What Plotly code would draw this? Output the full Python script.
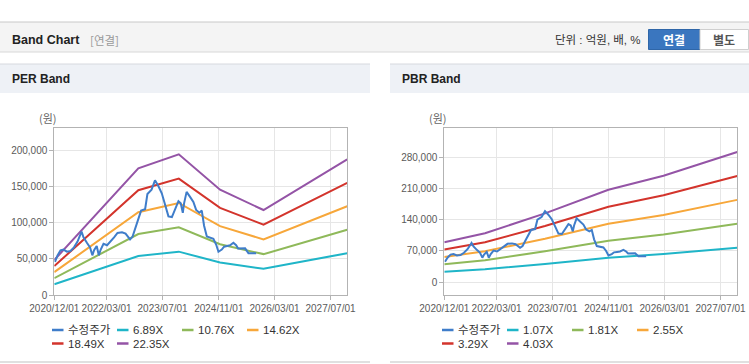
import plotly.graph_objects as go

W, H = 749, 364

# ---------------- data ----------------
price_name = "수정주가"
price_dates = [
    "2020-12-07", "2020-12-29", "2021-01-24", "2021-02-19", "2021-03-21", "2021-04-21",
    "2021-05-21", "2021-06-21", "2021-07-26", "2021-08-12", "2021-09-12", "2021-10-08",
    "2021-10-28", "2021-11-12", "2021-12-05", "2021-12-23", "2022-01-09", "2022-02-02",
    "2022-03-05", "2022-04-04", "2022-05-05", "2022-06-04", "2022-07-13", "2022-08-13",
    "2022-09-21", "2022-10-13", "2022-11-08", "2022-12-04", "2022-12-26", "2023-01-30",
    "2023-02-19", "2023-03-27", "2023-04-26", "2023-05-25", "2023-06-24", "2023-07-23",
    "2023-08-21", "2023-09-20", "2023-10-18", "2023-11-16", "2023-12-06", "2023-12-24",
    "2024-01-04", "2024-01-26", "2024-02-25", "2024-03-25", "2024-04-18", "2024-05-16",
    "2024-06-06", "2024-06-26", "2024-07-20", "2024-08-18", "2024-09-15", "2024-10-09",
    "2024-10-29", "2024-11-27", "2024-12-17", "2025-01-12", "2025-02-07", "2025-03-08",
    "2025-04-01", "2025-04-18", "2025-05-23", "2025-06-18", "2025-07-17", "2025-08-18",
    "2025-09-22",
]
price_values = [
    46000, 55000, 62000, 63000, 60000, 61000,
    66000, 74000, 88000, 80000, 72000, 66000,
    55000, 62000, 68000, 55000, 63000, 71000,
    69000, 74000, 80000, 86000, 87000, 85000,
    77000, 81000, 94000, 108000, 117000, 119000,
    140000, 146000, 159000, 151000, 141000, 125000,
    109000, 108000, 120000, 130000, 127000, 114000,
    127000, 143000, 136000, 129000, 118000, 114000,
    117000, 96000, 81000, 79000, 78000, 70000,
    60000, 63000, 67000, 68000, 69000, 72500,
    69000, 64500, 64700, 64700, 58000, 58000,
    58000,
]

per_band_names = ["6.89X", "10.76X", "14.62X", "18.49X", "22.35X"]
per_band_dates = ["2020-12-01", "2022-12-02", "2023-11-19", "2024-11-12", "2025-11-25", "2027-11-23"]
per_6_89 = [15000, 54100, 60100, 45000, 36300, 58000]
per_10_76 = [23300, 84500, 93900, 70300, 56700, 90500]
per_14_62 = [31700, 114800, 127600, 95500, 77100, 123000]
per_18_49 = [40100, 145200, 161300, 120800, 97500, 155500]
per_22_35 = [48500, 175500, 195000, 146000, 117800, 188000]

pbr_band_names = ["1.07X", "1.81X", "2.55X", "3.29X", "4.03X"]
pbr_band_dates = ["2020-12-01", "2021-11-20", "2023-04-26", "2024-10-29", "2026-02-20", "2027-11-23"]
pbr_1_07 = [23800, 29200, 40900, 54900, 63200, 77300]
pbr_1_81 = [40200, 49300, 69200, 92900, 107000, 130800]
pbr_2_55 = [56700, 69500, 97500, 130900, 150700, 184300]
pbr_3_29 = [73100, 89600, 125700, 168800, 194500, 237700]
pbr_4_03 = [89600, 109800, 154000, 206800, 238200, 291200]

x_tick_vals = ["2020-12-01", "2022-03-01", "2023-07-01", "2024-11-01", "2026-03-01", "2027-07-01"]
x_tick_text = ["2020/12/01", "2022/03/01", "2023/07/01", "2024/11/01", "2026/03/01", "2027/07/01"]
per_y_ticks = [0, 50000, 100000, 150000, 200000]
pbr_y_ticks = [0, 70000, 140000, 210000, 280000]

# ---------------- style ----------------
PRICE_COLOR = "#3f7dca"
BAND_COLORS = ["#1fb5c8", "#8fb95a", "#f7a73a", "#d3342c", "#9454a6"]
TICK_FONT = dict(family="Liberation Sans, Arial, sans-serif", size=10, color="#5a5a5a")
LEG_FONT = dict(family="Liberation Sans, Arial, Noto Sans CJK KR, sans-serif",
                size=11.5, color="#333333")


def px(x):
    return x / W


def py(y):
    return 1 - y / H


fig = go.Figure()

per_bands = [per_6_89, per_10_76, per_14_62, per_18_49, per_22_35]
pbr_bands = [pbr_1_07, pbr_1_81, pbr_2_55, pbr_3_29, pbr_4_03]

for vals, name, col in zip(per_bands, per_band_names, BAND_COLORS):
    fig.add_trace(go.Scatter(x=per_band_dates, y=vals, name=name, mode="lines",
                             line=dict(color=col, width=2), xaxis="x", yaxis="y",
                             showlegend=False, hoverinfo="skip"))
fig.add_trace(go.Scatter(x=price_dates, y=price_values, name=price_name, mode="lines",
                         line=dict(color=PRICE_COLOR, width=2), xaxis="x", yaxis="y",
                         showlegend=False))

for vals, name, col in zip(pbr_bands, pbr_band_names, BAND_COLORS):
    fig.add_trace(go.Scatter(x=pbr_band_dates, y=vals, name=name, mode="lines",
                             line=dict(color=col, width=2), xaxis="x2", yaxis="y2",
                             showlegend=False, hoverinfo="skip"))
fig.add_trace(go.Scatter(x=price_dates, y=price_values, name=price_name, mode="lines",
                         line=dict(color=PRICE_COLOR, width=2), xaxis="x2", yaxis="y2",
                         showlegend=False))

x_range = ["2020-12-01", "2027-11-24"]
common_x = dict(type="date", range=x_range, tickmode="array", tickvals=x_tick_vals,
                ticktext=x_tick_text, tickfont=TICK_FONT, tickangle=0, showgrid=True,
                gridcolor="#e6e6e6", gridwidth=1, showline=True, linecolor="#b3b3b3",
                linewidth=1, mirror=True, ticks="outside", ticklen=4, tickcolor="#b3b3b3",
                zeroline=False, fixedrange=True, automargin=False)
common_y = dict(tickmode="array", tickfont=TICK_FONT, tickformat=",d", showgrid=True,
                gridcolor="#e6e6e6", gridwidth=1, showline=True, linecolor="#b3b3b3",
                linewidth=1, mirror=True, ticks="outside", ticklen=4, tickcolor="#b3b3b3",
                zeroline=False, fixedrange=True, automargin=False)

fig.update_layout(
    width=W, height=H,
    margin=dict(l=0, r=0, t=0, b=0, pad=0, autoexpand=False),
    paper_bgcolor="white",
    plot_bgcolor="rgba(0,0,0,0)",
    showlegend=False,
    xaxis=dict(domain=[px(54.3), px(347.3)], anchor="y", **common_x),
    yaxis=dict(domain=[py(295), py(128)], anchor="x", range=[0, 231500],
               tickvals=per_y_ticks, **common_y),
    xaxis2=dict(domain=[px(444.3), px(737.3)], anchor="y2", **common_x),
    yaxis2=dict(domain=[py(295), py(128)], anchor="x2", range=[-28400, 345000],
                tickvals=pbr_y_ticks, **common_y),
)

shapes = []
annotations = []

# top header bar
shapes.append(dict(type="rect", xref="paper", yref="paper", x0=px(0), x1=px(749),
                   y0=py(52), y1=py(22), fillcolor="#f4f4f4",
                   line=dict(width=0), layer="below"))
shapes.append(dict(type="line", xref="paper", yref="paper", x0=0, x1=1, y0=py(22), y1=py(22),
                   line=dict(color="#c8c8c8", width=1), layer="below"))
shapes.append(dict(type="line", xref="paper", yref="paper", x0=0, x1=1, y0=py(52), y1=py(52),
                   line=dict(color="#d8d8d8", width=1), layer="below"))
# buttons
shapes.append(dict(type="rect", xref="paper", yref="paper", x0=px(648.5), x1=px(700),
                   y0=py(49.5), y1=py(29.5), fillcolor="#3a76bf",
                   line=dict(color="#2f66a8", width=1), layer="below"))
shapes.append(dict(type="rect", xref="paper", yref="paper", x0=px(700), x1=px(748.5),
                   y0=py(49.5), y1=py(29.5), fillcolor="#ffffff",
                   line=dict(color="#cfcfcf", width=1), layer="below"))

annotations += [
    dict(text="<b>Band Chart</b>", x=px(10), y=py(39.5), xref="paper", yref="paper",
         xanchor="left", yanchor="middle", showarrow=False,
         font=dict(family="Liberation Sans, Arial, sans-serif", size=12.5, color="#222222")),
    dict(text="[연결]", x=px(88), y=py(39.5), xref="paper", yref="paper",
         xanchor="left", yanchor="middle", showarrow=False,
         font=dict(family="Noto Sans CJK KR, sans-serif", size=11.5, color="#999999")),
    dict(text="단위 : 억원, 배, %", x=px(643), y=py(39.5), xref="paper", yref="paper",
         xanchor="right", yanchor="middle", showarrow=False,
         font=dict(family="Liberation Sans, Noto Sans CJK KR, sans-serif", size=11.5, color="#333333")),
    dict(text="<b>연결</b>", x=px(674), y=py(39.5), xref="paper", yref="paper",
         xanchor="center", yanchor="middle", showarrow=False,
         font=dict(family="Noto Sans CJK KR, sans-serif", size=12, color="#ffffff")),
    dict(text="<b>별도</b>", x=px(724), y=py(39.5), xref="paper", yref="paper",
         xanchor="center", yanchor="middle", showarrow=False,
         font=dict(family="Noto Sans CJK KR, sans-serif", size=12, color="#555555")),
]

# panels
for (x0, x1, title, ox) in [(0, 370, "PER Band", 48), (390, 749, "PBR Band", 438)]:
    shapes.append(dict(type="rect", xref="paper", yref="paper", x0=px(x0), x1=px(x1),
                       y0=py(93), y1=py(64), fillcolor="#eef1f6",
                       line=dict(width=0), layer="below"))
    shapes.append(dict(type="line", xref="paper", yref="paper", x0=px(x0), x1=px(x1),
                       y0=py(64), y1=py(64), line=dict(color="#d6d9de", width=1), layer="below"))
    shapes.append(dict(type="line", xref="paper", yref="paper", x0=px(x0), x1=px(x1),
                       y0=py(362), y1=py(362), line=dict(color="#d6d6d6", width=1.5), layer="below"))
    annotations.append(dict(text="<b>" + title + "</b>", x=px(x0 + 10), y=py(79),
                            xref="paper", yref="paper", xanchor="left", yanchor="middle",
                            showarrow=False,
                            font=dict(family="Liberation Sans, Arial, sans-serif", size=12, color="#222222")))
    annotations.append(dict(text="(원)", x=px(ox), y=py(118), xref="paper", yref="paper",
                            xanchor="center", yanchor="middle", showarrow=False,
                            font=dict(family="Noto Sans CJK KR, sans-serif", size=11, color="#666666")))

# custom legends
legend_rows = [330, 343.5]
for start, names in [(52, [price_name] + per_band_names), (442, [price_name] + pbr_band_names)]:
    colors = [PRICE_COLOR] + BAND_COLORS
    for i, (nm, col) in enumerate(zip(names, colors)):
        r, c = divmod(i, 4)
        lx = start + c * 65
        ly = legend_rows[r]
        shapes.append(dict(type="line", xref="paper", yref="paper", x0=px(lx), x1=px(lx + 11.5),
                           y0=py(ly), y1=py(ly), line=dict(color=col, width=2.5)))
        annotations.append(dict(text=nm, x=px(lx + 13.5), y=py(ly), xref="paper", yref="paper",
                                xanchor="left", yanchor="middle", showarrow=False, font=LEG_FONT))

fig.update_layout(shapes=shapes, annotations=annotations)

fig.write_html(
    "out.html",
    config={"displayModeBar": False, "staticPlot": False},
    post_script="document.body.style.margin='0';document.body.style.padding='0';"
                "document.documentElement.style.overflow='hidden';",
)
